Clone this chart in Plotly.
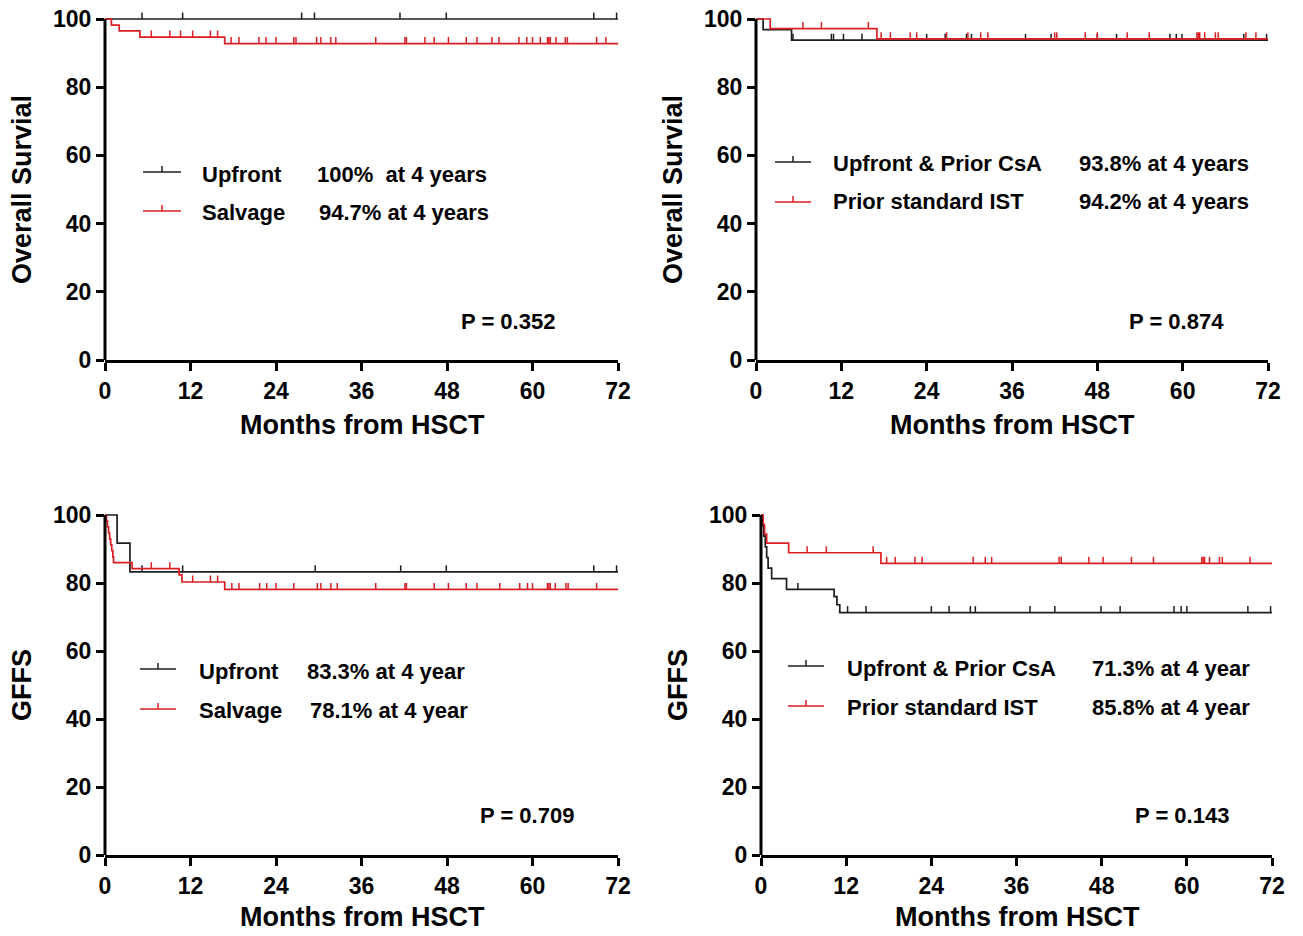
import plotly.graph_objects as go

W, H = 1303, 936
RED = "#dc1e24"
BLK = "#1e1e1e"
FONT = "Liberation Sans, Arial, sans-serif"
X_MAX = 72

# ---------------- data ----------------
# Panel A: Overall survival, Upfront vs Salvage
osa_up_times = [0]
osa_up_surv = [100]
osa_up_cens = [5.2, 10.9, 27.6, 29.4, 41.4, 47.9, 68.6, 71.8]
osa_salv_times = [0, 0.9, 2.0, 4.9, 16.8]
osa_salv_surv = [100, 98.2, 96.5, 94.7, 92.8]
osa_salv_cens = [6.5, 9.1, 10.6, 12.3, 14.8, 15.8, 17.7, 18.8, 21.6, 22.6, 24.0, 26.5, 26.8,
                 29.7, 30.3, 31.7, 32.4, 38.0, 42.1, 42.3, 44.9, 46.2, 48.2, 50.7, 52.2, 54.3,
                 55.3, 58.1, 59.2, 60.0, 61.1, 62.1, 62.3, 62.5, 63.3, 64.6, 64.9, 69.0, 70.3]

# Panel B: Overall survival, Upfront & Prior CsA vs Prior standard IST
osb_csa_times = [0, 1.0, 5.0]
osb_csa_surv = [100, 96.9, 93.8]
osb_csa_cens = [5.2, 10.6, 10.9, 12.3, 14.9, 24.0, 26.6, 29.6, 30.3, 37.9, 41.5, 48.0, 50.7,
                58.2, 59.1, 59.9, 68.6, 71.8]
osb_ist_times = [0, 2.0, 17.0]
osb_ist_surv = [100, 97.2, 94.2]
osb_ist_cens = [6.6, 9.2, 15.8, 17.6, 18.9, 21.7, 22.6, 26.8, 29.8, 31.6, 32.6, 42.0, 42.3,
                46.3, 48.0, 52.2, 55.3, 62.0, 62.2, 62.4, 63.1, 64.6, 65.0, 68.9, 70.3]

# Panel C: GFFS, Upfront vs Salvage
gfc_up_times = [0, 1.7, 3.5]
gfc_up_surv = [100, 91.7, 83.3]
gfc_up_cens = [5.2, 10.9, 29.5, 41.5, 47.9, 68.6, 71.8]
gfc_salv_times = [0, 0.2, 0.35, 0.5, 0.65, 0.8, 0.95, 1.1, 1.2, 3.8, 10.4, 10.8, 16.8]
gfc_salv_surv = [100, 98.2, 96.5, 94.7, 93.0, 91.2, 89.5, 87.7, 86.0, 84.2, 82.4, 80.3, 78.1]
gfc_salv_cens = [6.5, 9.1, 12.3, 14.8, 15.8, 17.8, 18.8, 21.7, 22.7, 24.0, 26.5, 29.8, 30.3,
                 31.7, 32.6, 38.0, 42.1, 42.3, 46.2, 48.2, 50.7, 52.2, 55.4, 58.2, 59.3, 60.0,
                 62.1, 62.3, 62.5, 63.2, 64.7, 65.0, 69.0]

# Panel D: GFFS, Upfront & Prior CsA vs Prior standard IST
gfd_csa_times = [0, 0.2, 0.4, 0.6, 0.8, 1.0, 1.5, 3.6, 10.3, 10.7, 11.1]
gfd_csa_surv = [100, 96.9, 93.8, 90.6, 87.5, 84.4, 81.3, 78.1, 76.0, 73.6, 71.3]
gfd_csa_cens = [5.2, 12.2, 14.8, 24.0, 26.5, 29.5, 30.2, 37.9, 41.4, 47.9, 50.6, 58.2, 59.2,
                60.0, 68.6, 71.8]
gfd_ist_times = [0, 0.3, 0.5, 0.8, 3.9, 16.9]
gfd_ist_surv = [100, 97.2, 94.4, 91.7, 88.9, 85.8]
gfd_ist_cens = [6.5, 9.2, 15.8, 17.7, 18.9, 21.7, 22.7, 29.9, 31.6, 32.5, 42.0, 42.3, 46.2,
                48.2, 52.2, 55.3, 62.1, 62.3, 62.5, 63.2, 64.6, 65.0, 68.9]

x_ticks = [0, 12, 24, 36, 48, 60, 72]
y_ticks = [0, 20, 40, 60, 80, 100]

# ---------------- layout helpers ----------------
def px(x):
    return x / W


def py(y):
    return 1 - y / H


fig = go.Figure()
shapes = []
annotations = []

TICK_H = 1.9  # censor tick height in survival units


def km(times, surv, cens, color, xa, ya):
    xs = list(times) + [X_MAX]
    ys = list(surv) + [surv[-1]]
    fig.add_trace(go.Scatter(x=xs, y=ys, mode="lines", line=dict(color=color, width=1.7, shape="hv"),
                             xaxis=xa, yaxis=ya, showlegend=False, hoverinfo="skip"))
    cx, cy = [], []
    for t in cens:
        s = surv[0]
        for ti, si in zip(times, surv):
            if ti <= t:
                s = si
        cx += [t, t, None]
        cy += [s, s + TICK_H, None]
    fig.add_trace(go.Scatter(x=cx, y=cy, mode="lines", line=dict(color=color, width=1.5),
                             xaxis=xa, yaxis=ya, showlegend=False, hoverinfo="skip"))


panels = [
    dict(n="", xd=(105, 618), yb=360, yt=19, ytitle="Overall Survial", ytx=22, yty=190,
         xtx=362, xty=425,
         curves=[(osa_up_times, osa_up_surv, osa_up_cens, BLK), (osa_salv_times, osa_salv_surv, osa_salv_cens, RED)],
         leg=dict(lx=(143, 181), ly=(172, 211), tx=200, names=("Upfront", "Salvage"),
                  px_=(315, 317), pct=("100%\u00a0 at 4 years", "94.7% at 4 years"), ty=(174, 213)),
         p=("P = 0.352", 508, 321)),
    dict(n="2", xd=(756, 1268), yb=360, yt=19, ytitle="Overall Survial", ytx=673, yty=190,
         xtx=1012, xty=425,
         curves=[(osb_csa_times, osb_csa_surv, osb_csa_cens, BLK), (osb_ist_times, osb_ist_surv, osb_ist_cens, RED)],
         leg=dict(lx=(775, 811), ly=(162, 202), tx=831, names=("Upfront & Prior CsA", "Prior standard IST"),
                  px_=(1077, 1077), pct=("93.8% at 4 years", "94.2% at 4 years"), ty=(163, 201)),
         p=("P = 0.874", 1176, 321)),
    dict(n="3", xd=(105, 618), yb=855, yt=515, ytitle="GFFS", ytx=22, yty=685,
         xtx=362, xty=917,
         curves=[(gfc_up_times, gfc_up_surv, gfc_up_cens, BLK), (gfc_salv_times, gfc_salv_surv, gfc_salv_cens, RED)],
         leg=dict(lx=(140, 176), ly=(669, 709), tx=197, names=("Upfront", "Salvage"),
                  px_=(305, 308), pct=("83.3% at 4 year", "78.1% at 4 year"), ty=(671, 710)),
         p=("P = 0.709", 527, 815)),
    dict(n="4", xd=(761, 1272), yb=855, yt=515, ytitle="GFFS", ytx=678, yty=685,
         xtx=1018, xty=917,
         curves=[(gfd_csa_times, gfd_csa_surv, gfd_csa_cens, BLK), (gfd_ist_times, gfd_ist_surv, gfd_ist_cens, RED)],
         leg=dict(lx=(788, 824), ly=(666, 706), tx=845, names=("Upfront & Prior CsA", "Prior standard IST"),
                  px_=(1090, 1090), pct=("71.3% at 4 year", "85.8% at 4 year"), ty=(668, 707)),
         p=("P = 0.143", 1182, 815)),
]

Y_TOP = 103
lay = {}
for pnl in panels:
    n = pnl["n"]
    xa, ya = "x" + n, "y" + n
    unit = (pnl["yb"] - pnl["yt"]) / 100.0
    top_px = pnl["yb"] - Y_TOP * unit
    lay["xaxis" + n] = dict(
        domain=[px(pnl["xd"][0]), px(pnl["xd"][1])], anchor=ya, range=[0, X_MAX],
        tickvals=x_ticks, ticks="outside", ticklen=8, tickwidth=3, tickcolor="black",
        showline=True, linewidth=3, linecolor="black", showgrid=False, zeroline=False,
        tickfont=dict(family=FONT, size=23, color="black", weight="bold"), automargin=False)
    lay["yaxis" + n] = dict(
        domain=[py(pnl["yb"]), py(top_px)], anchor=xa, range=[0, Y_TOP],
        tickvals=y_ticks, ticks="outside", ticklen=8, tickwidth=3, tickcolor="black",
        showline=False, showgrid=False, zeroline=False,
        tickfont=dict(family=FONT, size=23, color="black", weight="bold"), automargin=False)
    # y axis line from 0 to 100
    xdom = "x" + n + " domain" if n else "x domain"
    shapes.append(dict(type="line", xref=xdom, x0=0, x1=0, yref=ya, y0=0, y1=100,
                       line=dict(color="black", width=3), layer="above"))
    for (t, s, c, col) in pnl["curves"]:
        km(t, s, c, col, xa, ya)
    # titles
    annotations.append(dict(x=px(pnl["ytx"]), y=py(pnl["yty"]), xref="paper", yref="paper",
                            xanchor="center", yanchor="middle",
                            text=pnl["ytitle"], textangle=-90, showarrow=False,
                            font=dict(family=FONT, size=27, color="black", weight="bold")))
    annotations.append(dict(x=px(pnl["xtx"]), y=py(pnl["xty"]), xref="paper", yref="paper",
                            xanchor="center", yanchor="middle",
                            text="Months from HSCT", showarrow=False,
                            font=dict(family=FONT, size=27, color="black", weight="bold")))
    # legend
    lg = pnl["leg"]
    for i, col in enumerate((BLK, RED)):
        ly = lg["ly"][i]
        shapes.append(dict(type="line", xref="paper", yref="paper", x0=px(lg["lx"][0]), x1=px(lg["lx"][1]),
                           y0=py(ly), y1=py(ly), line=dict(color=col, width=1.7)))
        mid = (lg["lx"][0] + lg["lx"][1]) / 2
        shapes.append(dict(type="line", xref="paper", yref="paper", x0=px(mid), x1=px(mid),
                           y0=py(ly), y1=py(ly - 6), line=dict(color=col, width=1.5)))
        annotations.append(dict(x=px(lg["tx"]), y=py(lg["ty"][i]), xref="paper", yref="paper",
                                xanchor="left", yanchor="middle", text=lg["names"][i], showarrow=False,
                                font=dict(family=FONT, size=22, color="black", weight="bold")))
        annotations.append(dict(x=px(lg["px_"][i]), y=py(lg["ty"][i]), xref="paper", yref="paper",
                                xanchor="left", yanchor="middle", text=lg["pct"][i], showarrow=False,
                                font=dict(family=FONT, size=22, color="black", weight="bold")))
    ptxt, pxx, pyy = pnl["p"]
    annotations.append(dict(x=px(pxx), y=py(pyy), xref="paper", yref="paper", text=ptxt,
                            xanchor="center", yanchor="middle",
                            showarrow=False, font=dict(family=FONT, size=22, color="black", weight="bold")))

fig.update_layout(
    width=W, height=H, margin=dict(l=0, r=0, t=0, b=0),
    paper_bgcolor="white", plot_bgcolor="white",
    shapes=shapes, annotations=annotations, showlegend=False,
    **lay,
)

fig.write_html("out.html", config={"displayModeBar": False},
               post_script="document.body.style.margin='0';document.body.style.overflow='hidden';")
